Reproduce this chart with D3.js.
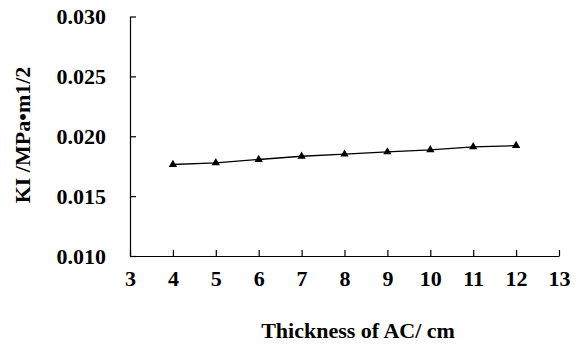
<!DOCTYPE html>
<html>
<head>
<meta charset="utf-8">
<script src="https://cdn.jsdelivr.net/npm/d3@7"></script>
<style>
body{margin:0;background:#fff;}
text{font-family:"Liberation Serif","Times New Roman",serif;font-weight:bold;fill:#000;}
</style>
</head>
<body>
<svg id="c" width="578" height="345"></svg>
<script>
const thickness = [4, 5, 6, 7, 8, 9, 10, 11, 12];
const kiValues = [0.01764, 0.01778, 0.01806, 0.01833, 0.0185, 0.01869, 0.01886, 0.01911, 0.01922];
const xTicks = [3, 4, 5, 6, 7, 8, 9, 10, 11, 12, 13];
const yTicks = [0.010, 0.015, 0.020, 0.025, 0.030];
const xTitle = "Thickness of AC/ cm";
const yTitle = "KI /MPa\u2022m1/2";

const svg = d3.select("#c");
const x = d3.scaleLinear().domain([3, 13]).range([130, 559]);
const y = d3.scaleLinear().domain([0.010, 0.030]).range([256, 16.5]);

const gx = svg.append("g").attr("transform", "translate(0,256)")
  .call(d3.axisBottom(x).tickValues(xTicks).tickSize(-6).tickPadding(14).tickSizeOuter(0).tickFormat(d3.format("d")));
const gy = svg.append("g").attr("transform", "translate(130,0)")
  .call(d3.axisLeft(y).tickValues(yTicks).tickSize(-6).tickPadding(24).tickSizeOuter(0).tickFormat(d3.format(".3f")));
[gx, gy].forEach(g => {
  g.select(".domain").attr("stroke", "#000").attr("stroke-width", 1.2);
  g.selectAll(".tick line").attr("stroke", "#000").attr("stroke-width", 1.2);
  g.selectAll("text").attr("font-size", 22).attr("font-family", "Liberation Serif").attr("font-weight", "bold").attr("fill", "#000");
});

const line = d3.line().x((d, i) => x(thickness[i])).y(d => y(d));
svg.append("path").datum(kiValues).attr("d", line)
  .attr("fill", "none").attr("stroke", "#000").attr("stroke-width", 1.3);

const tri = d3.symbol().type(d3.symbolTriangle).size(30);
svg.selectAll(".m").data(kiValues).enter().append("path")
  .attr("d", tri)
  .attr("transform", (d, i) => `translate(${x(thickness[i])},${y(d)})`)
  .attr("fill", "#000");

svg.append("text").attr("x", 358).attr("y", 338).attr("text-anchor", "middle")
  .attr("font-size", 22).text(xTitle);
svg.append("text").attr("transform", "translate(30,135) rotate(-90)")
  .attr("text-anchor", "middle").attr("font-size", 22).text(yTitle);
</script>
</body>
</html>
